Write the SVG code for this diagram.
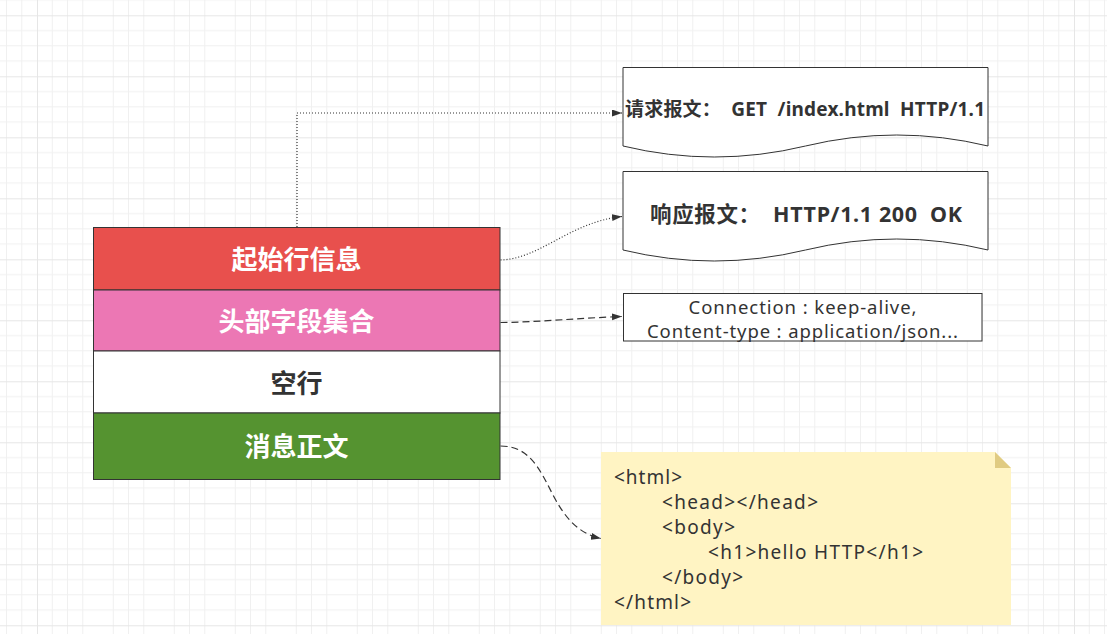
<svg xmlns="http://www.w3.org/2000/svg" width="1107" height="634" viewBox="0 0 1107 634">
  <defs>
    <pattern id="grid" x="37" y="15.3" width="61" height="61" patternUnits="userSpaceOnUse">
      <path d="M15.25 0V61M30.5 0V61M45.75 0V61M0 15.25H61M0 30.5H61M0 45.75H61" stroke="#f0f0f0" stroke-width="1" fill="none"/>
      <path d="M0.5 0V61M0 0.5H61" stroke="#e6e6e6" stroke-width="1" fill="none"/>
    </pattern>
    <marker id="arr" markerWidth="11" markerHeight="8" refX="10" refY="3.5" orient="auto" markerUnits="userSpaceOnUse">
      <path d="M0,0 L10,3.5 L0,7 Z" fill="#333333"/>
    </marker>
    <style>
      .lbl { font-family: "Noto Sans", "Noto Sans CJK SC", sans-serif; font-weight: bold; font-size: 26px; text-anchor: middle; dominant-baseline: central; }
      .doc { fill: #ffffff; stroke: #333333; stroke-width: 1; }
      .t { font-family: "Noto Sans", "Noto Sans CJK SC", sans-serif; fill: #333333; dominant-baseline: central; }
      .conn { fill: none; stroke: #333333; stroke-width: 1.2; marker-end: url(#arr); }
      .dot { stroke-dasharray: 1 2; }
      .dash { stroke-dasharray: 7 4; }
    </style>
  </defs>
  <rect width="1107" height="634" fill="#ffffff"/>
  <rect width="1107" height="634" fill="url(#grid)"/>

  <g id="connectors">
    <path class="conn dot" d="M297 227 V113 H622"/>
    <path class="conn dot" d="M500.5 260 C540 259, 570 222, 622 216.5"/>
    <path class="conn dash" d="M500.5 322.5 C540 322, 580 318, 622 316.5"/>
    <path class="conn dash" d="M500.5 446 C530 446, 540 470, 553 495 S580 534, 601 538.5"/>
  </g>

  <g id="start-line">
    <rect x="93.5" y="227.5" width="406.5" height="62.5" fill="#e8504d" stroke="#333333"/>
    <text class="lbl" x="296.5" y="259" fill="#ffffff">起始行信息</text>
  </g>
  <g id="headers">
    <rect x="93.5" y="290" width="406.5" height="61" fill="#ec77b4" stroke="#333333"/>
    <text class="lbl" x="296.5" y="321" fill="#ffffff">头部字段集合</text>
  </g>
  <g id="blank-line">
    <rect x="93.5" y="351" width="406.5" height="62" fill="#ffffff" stroke="#333333"/>
    <text class="lbl" x="296.5" y="383" fill="#333333">空行</text>
  </g>
  <g id="body">
    <rect x="93.5" y="413" width="406.5" height="66.5" fill="#559330" stroke="#333333"/>
    <text class="lbl" x="296.5" y="446" fill="#ffffff">消息正文</text>
  </g>

  <g id="request-doc">
    <path class="doc" d="M623 67.5 H988 V146 Q896.75 124 805.5 146 Q714.25 168 623 146 Z"/>
    <text class="t" x="625" y="109" font-size="19" font-weight="bold" xml:space="preserve" textLength="360" lengthAdjust="spacing">请求报文：  GET  /index.html  HTTP/1.1</text>
  </g>
  <g id="response-doc">
    <path class="doc" d="M623 171.5 H988 V250 Q896.75 228 805.5 250 Q714.25 272 623 250 Z"/>
    <text class="t" x="650" y="213" font-size="21.5" font-weight="bold" xml:space="preserve" textLength="312" lengthAdjust="spacing">响应报文：  HTTP/1.1 200  OK</text>
  </g>

  <g id="header-fields">
    <rect x="623.5" y="293.5" width="358.5" height="47.5" fill="#ffffff" stroke="#333333"/>
    <text class="t" x="802.5" y="306" font-size="18.5" text-anchor="middle" textLength="228" lengthAdjust="spacing">Connection : keep-alive,</text>
    <text class="t" x="802.5" y="330" font-size="18.5" text-anchor="middle" textLength="311" lengthAdjust="spacing">Content-type : application/json...</text>
  </g>

  <g id="html-note">
    <path d="M601 452 H995 L1011 468 V625 H601 Z" fill="#fff4c3"/>
    <path d="M995 452 V468 H1011 Z" fill="#e0cb82"/>
    <text class="t" x="614" y="477" font-size="19" textLength="68" lengthAdjust="spacing">&lt;html&gt;</text>
    <text class="t" x="662" y="502" font-size="19" textLength="156" lengthAdjust="spacing">&lt;head&gt;&lt;/head&gt;</text>
    <text class="t" x="662" y="527" font-size="19" textLength="73" lengthAdjust="spacing">&lt;body&gt;</text>
    <text class="t" x="708" y="552" font-size="19" textLength="215" lengthAdjust="spacing">&lt;h1&gt;hello HTTP&lt;/h1&gt;</text>
    <text class="t" x="662" y="577" font-size="19" textLength="81" lengthAdjust="spacing">&lt;/body&gt;</text>
    <text class="t" x="614" y="602" font-size="19" textLength="77" lengthAdjust="spacing">&lt;/html&gt;</text>
  </g>
</svg>
